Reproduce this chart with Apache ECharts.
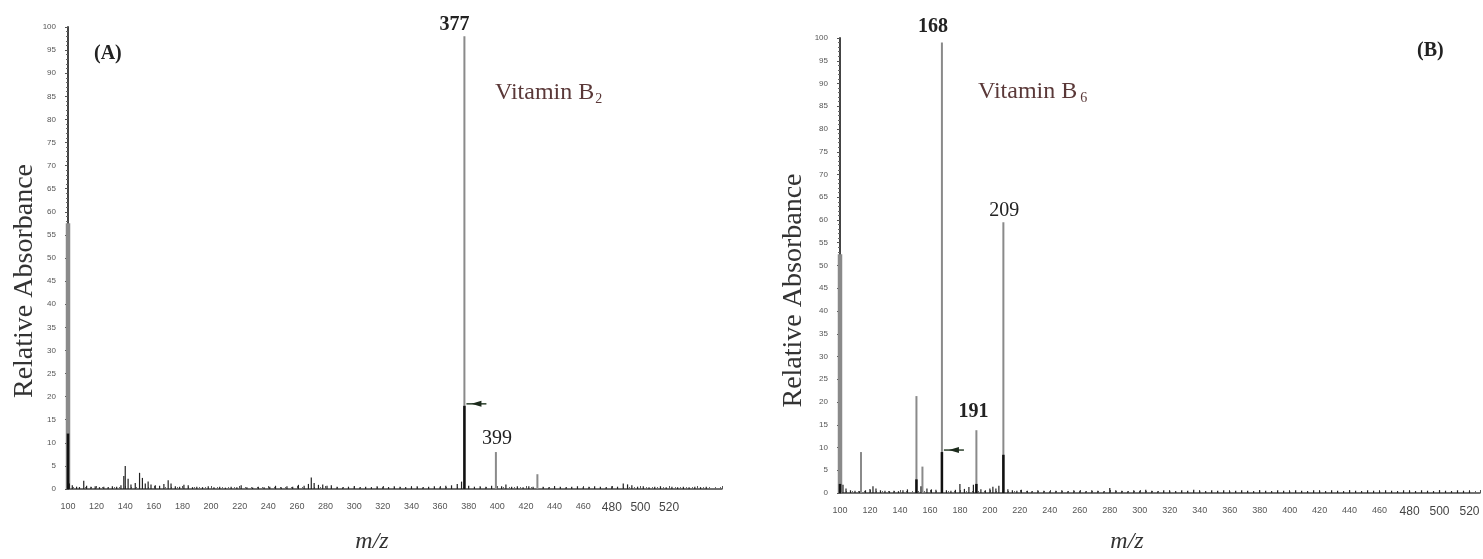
<!DOCTYPE html>
<html>
<head>
<meta charset="utf-8">
<script src="https://cdn.jsdelivr.net/npm/echarts@6/dist/echarts.min.js"></script>
<style>
  html, body { margin: 0; padding: 0; background: #fff; }
  #main { width: 1483px; height: 559px; }
</style>
</head>
<body>
<div id="main"></div>
<script>
// ---- tick labels ----
const mzTicks = [100, 120, 140, 160, 180, 200, 220, 240, 260, 280, 300, 320, 340, 360, 380, 400, 420, 440, 460, 480, 500, 520];
const intensityTicks = [0, 5, 10, 15, 20, 25, 30, 35, 40, 45, 50, 55, 60, 65, 70, 75, 80, 85, 90, 95, 100];

// ---- Spectrum A: Vitamin B2 ----
const peaksA_mz  = [100, 377, 399, 428];
const peaksA_val = [57.5, 98, 8, 3.2];
const coreA_mz   = [100, 377];
const coreA_val  = [12, 18];
const noiseA_mz  = [101, 103, 106, 108, 111, 113, 116, 119, 122, 125, 128, 131, 134, 137, 139, 140, 142, 144, 147, 150, 152, 154, 156, 158, 161, 164, 167, 170, 172, 175, 178, 181, 184, 187, 190, 194, 198, 202, 206, 210, 214, 218, 221, 225, 229, 233, 237, 241, 245, 249, 253, 257, 261, 265, 268, 270, 272, 275, 278, 281, 284, 288, 292, 296, 300, 304, 308, 312, 316, 320, 324, 328, 332, 336, 340, 344, 348, 352, 356, 360, 364, 368, 372, 375, 380, 384, 388, 392, 396, 403, 406, 410, 414, 418, 422, 425, 432, 436, 440, 444, 448, 452, 456, 460, 464, 468, 472, 476, 480, 484, 488, 491, 494, 498, 502, 506, 510, 514, 518, 522, 526, 530, 534, 538, 542, 546];
const noiseA_val = [1.2, 0.8, 0.5, 0.4, 1.8, 0.7, 0.5, 0.6, 0.4, 0.5, 0.4, 0.6, 0.5, 0.8, 2.8, 5.0, 2.2, 1.0, 1.3, 3.5, 2.4, 1.2, 1.6, 1.0, 0.8, 0.7, 1.1, 1.9, 1.2, 0.6, 0.5, 0.9, 0.8, 0.4, 0.5, 0.4, 0.6, 0.4, 0.5, 0.3, 0.5, 0.4, 0.8, 0.4, 0.3, 0.5, 0.4, 0.5, 0.7, 0.4, 0.6, 0.5, 0.9, 0.7, 1.1, 2.5, 1.3, 0.9, 1.0, 0.7, 0.8, 0.5, 0.4, 0.5, 0.6, 0.4, 0.5, 0.4, 0.6, 0.5, 0.4, 0.6, 0.5, 0.4, 0.5, 0.6, 0.4, 0.5, 0.6, 0.5, 0.7, 0.8, 1.1, 1.6, 0.7, 0.5, 0.6, 0.5, 0.7, 0.6, 1.0, 0.5, 0.6, 0.4, 0.6, 0.5, 0.5, 0.4, 0.6, 0.5, 0.4, 0.5, 0.6, 0.4, 0.5, 0.6, 0.5, 0.4, 0.6, 0.5, 1.2, 1.0, 0.8, 0.5, 0.6, 0.4, 0.5, 0.6, 0.4, 0.5, 0.4, 0.5, 0.4, 0.5, 0.4, 0.5];
const labelledA  = [377, 399];
const arrowA     = [377];

// ---- Spectrum B: Vitamin B6 ----
const peaksB_mz  = [100, 114, 151, 155, 168, 191, 209];
const peaksB_val = [52.5, 9, 21.3, 5.8, 99, 13.8, 59.5];
const coreB_mz   = [100, 151, 168, 191, 209];
const coreB_val  = [2, 3, 9, 2, 8.4];
const noiseB_mz  = [102, 104, 107, 110, 113, 117, 120, 122, 124, 127, 130, 133, 136, 139, 142, 145, 154, 158, 161, 164, 171, 174, 177, 180, 183, 186, 189, 194, 197, 200, 202, 204, 206, 212, 215, 218, 221, 225, 228, 232, 236, 240, 244, 248, 252, 256, 260, 264, 268, 272, 276, 280, 284, 288, 292, 296, 300, 304, 308, 312, 316, 320, 324, 328, 332, 336, 340, 344, 348, 352, 356, 360, 364, 368, 372, 376, 380, 384, 388, 392, 396, 400, 404, 408, 412, 416, 420, 424, 428, 432, 436, 440, 444, 448, 452, 456, 460, 464, 468, 472, 476, 480, 484, 488, 492, 496, 500, 504, 508, 512, 516, 520];
const noiseB_val = [1.8, 1.0, 0.6, 0.5, 0.4, 0.6, 0.9, 1.5, 1.0, 0.6, 0.5, 0.4, 0.5, 0.4, 0.6, 0.8, 1.5, 1.0, 0.8, 0.7, 0.6, 0.5, 0.7, 2.0, 0.9, 1.3, 1.8, 0.8, 0.6, 1.0, 1.4, 1.0, 1.6, 0.8, 0.6, 0.5, 0.7, 0.5, 0.4, 0.6, 0.5, 0.4, 0.5, 0.6, 0.4, 0.6, 0.5, 0.4, 0.6, 0.5, 0.4, 1.1, 0.6, 0.5, 0.4, 0.6, 0.5, 0.7, 0.5, 0.4, 0.6, 0.5, 0.4, 0.6, 0.5, 0.7, 0.5, 0.4, 0.6, 0.5, 0.6, 0.4, 0.5, 0.6, 0.5, 0.4, 0.6, 0.5, 0.4, 0.6, 0.5, 0.4, 0.6, 0.5, 0.4, 0.6, 0.5, 0.4, 0.6, 0.5, 0.4, 0.6, 0.5, 0.4, 0.6, 0.5, 0.4, 0.6, 0.5, 0.4, 0.6, 0.5, 0.4, 0.6, 0.5, 0.4, 0.6, 0.5, 0.4, 0.6, 0.5, 0.4];
const labelledB  = [168, 191, 209];
const arrowB     = [168];

// ---- presentation ----
const SERIF = '"Liberation Serif", "DejaVu Serif", serif';
const SANS = '"Liberation Sans", "DejaVu Sans", sans-serif';
const wideBars = { 100: 4.5 };            // m/z positions drawn as broad bars
const labelStyle = {                        // per-peak label placement (px)
  377: { dx: -10, dy: -11, bold: true },
  399: { dx: 1,   dy: -13, bold: false },
  168: { dx: -9,  dy: -16, bold: true },
  191: { dx: -3,  dy: -18, bold: true },
  209: { dx: 1,   dy: -12, bold: false }
};

function pairs(xs, ys) { return xs.map((x, i) => [x, ys[i]]); }
function lookup(xs, ys, x) { return ys[xs.indexOf(x)]; }

function stickSeries(idx, data, color, width, z) {
  return {
    type: 'custom', xAxisIndex: idx, yAxisIndex: idx, z: z, silent: true,
    data: data,
    renderItem: function (params, api) {
      const mz = api.value(0);
      const p0 = api.coord([mz, 0]);
      const p1 = api.coord([mz, api.value(1)]);
      const w = wideBars[mz] && color !== '#111' ? wideBars[mz] : width;
      return {
        type: 'line',
        shape: { x1: p0[0], y1: p0[1], x2: p1[0], y2: p1[1] },
        style: { stroke: color, lineWidth: w }
      };
    }
  };
}

function labelSeries(idx, data) {
  return {
    type: 'custom', xAxisIndex: idx, yAxisIndex: idx, z: 10, silent: true,
    data: data,
    renderItem: function (params, api) {
      const mz = api.value(0);
      const p = api.coord([mz, api.value(1)]);
      const s = labelStyle[mz];
      return {
        type: 'text',
        x: p[0] + s.dx, y: p[1] + s.dy,
        style: {
          text: String(mz), align: 'center', verticalAlign: 'middle',
          fontFamily: SERIF, fontSize: 20, fontWeight: s.bold ? 'bold' : 'normal',
          fill: '#222'
        }
      };
    }
  };
}

function arrowSeries(idx, data) {
  return {
    type: 'custom', xAxisIndex: idx, yAxisIndex: idx, z: 9, silent: true,
    data: data,
    renderItem: function (params, api) {
      const p = api.coord([api.value(0), api.value(1)]);
      const x = p[0], y = p[1] - 2;
      return {
        type: 'group',
        children: [
          { type: 'line', shape: { x1: x + 2, y1: y, x2: x + 22, y2: y },
            style: { stroke: '#2b3f2b', lineWidth: 1.5 } },
          { type: 'polygon', shape: { points: [[x + 7, y], [x + 17, y - 3], [x + 17, y + 3]] },
            style: { fill: '#1c2a1c' } }
        ]
      };
    }
  };
}

function xAxisFor(idx, max, nameShift, nameGap) {
  return {
    gridIndex: idx, type: 'value', min: 100, max: max, interval: 20,
    axisLine: { show: true, onZero: false, lineStyle: { color: '#444', width: 1.5 } },
    axisTick: { show: true, length: 3, inside: true, lineStyle: { color: '#555' } },
    minorTick: { show: true, splitNumber: 5, length: 2, lineStyle: { color: '#666' } },
    splitLine: { show: false },
    axisLabel: {
      margin: 13, color: '#555', fontFamily: SANS, fontSize: 9,
      showMaxLabel: false,
      formatter: function (v) {
        if (mzTicks.indexOf(v) < 0) return '';
        return v >= 480 ? '{big|' + v + '}' : String(v);
      },
      rich: { big: { fontSize: 12, color: '#444', fontFamily: SANS } }
    },
    name: 'm/z', nameLocation: 'middle', nameGap: nameGap,
    nameTextStyle: { fontFamily: SERIF, fontStyle: 'italic', fontSize: 24, color: '#333',
                     padding: [0, nameShift, 0, 0] }
  };
}

function yAxisFor(idx, nameGap, nameDrop) {
  return {
    gridIndex: idx, type: 'value', min: 0, max: 100, interval: 5,
    axisLine: { show: true, lineStyle: { color: '#444', width: 2 } },
    axisTick: { show: true, length: 3, lineStyle: { color: '#555' } },
    minorTick: { show: true, splitNumber: 5, length: 2, lineStyle: { color: '#666' } },
    splitLine: { show: false },
    axisLabel: {
      margin: 12, color: '#555', fontFamily: SANS, fontSize: 8,
      formatter: function (v) { return intensityTicks.indexOf(v) >= 0 ? String(v) : ''; }
    },
    name: 'Relative Absorbance', nameLocation: 'middle', nameRotate: 90, nameGap: nameGap,
    nameTextStyle: { fontFamily: SERIF, fontSize: 28, color: '#333',
                     padding: [0, nameDrop, 0, 0] }
  };
}

const chart = echarts.init(document.getElementById('main'));
chart.setOption({
  animation: false,
  backgroundColor: '#fff',
  grid: [
    { left: 68, top: 27, width: 654, height: 473 },
    { left: 840, top: 38, width: 640, height: 464 }
  ],
  xAxis: [xAxisFor(0, 557, 46, 41), xAxisFor(1, 527, 66, 37)],
  yAxis: [yAxisFor(0, 26, 46), yAxisFor(1, 32, 50)],
  graphic: [
    { type: 'text', left: 94, top: 44, style: { text: '(A)', fontFamily: SERIF, fontSize: 20, fontWeight: 'bold', fill: '#222' } },
    { type: 'text', left: 1417, top: 41, style: { text: '(B)', fontFamily: SERIF, fontSize: 20, fontWeight: 'bold', fill: '#222' } },
    { type: 'text', left: 495, top: 81, style: {
        text: '{t|Vitamin B}{s|2}',
        rich: { t: { fontFamily: SERIF, fontSize: 24, fill: '#5a3838' },
                s: { fontFamily: SERIF, fontSize: 14, fill: '#5a3838', padding: [13, 0, 0, 1] } } } },
    { type: 'text', left: 978, top: 80, style: {
        text: '{t|Vitamin B}{s|6}',
        rich: { t: { fontFamily: SERIF, fontSize: 24, fill: '#5a3838' },
                s: { fontFamily: SERIF, fontSize: 14, fill: '#5a3838', padding: [13, 0, 0, 3] } } } }
  ],
  series: [
    stickSeries(0, pairs(peaksA_mz, peaksA_val), '#8a8a8a', 2, 2),
    stickSeries(0, pairs(noiseA_mz, noiseA_val), '#222', 1.2, 3),
    stickSeries(0, pairs(coreA_mz, coreA_val), '#111', 2.5, 4),
    labelSeries(0, labelledA.map(m => [m, lookup(peaksA_mz, peaksA_val, m)])),
    arrowSeries(0, arrowA.map(m => [m, lookup(coreA_mz, coreA_val, m)])),

    stickSeries(1, pairs(peaksB_mz, peaksB_val), '#8a8a8a', 2, 2),
    stickSeries(1, pairs(noiseB_mz, noiseB_val), '#222', 1.2, 3),
    stickSeries(1, pairs(coreB_mz, coreB_val), '#111', 2.5, 4),
    labelSeries(1, labelledB.map(m => [m, lookup(peaksB_mz, peaksB_val, m)])),
    arrowSeries(1, arrowB.map(m => [m, lookup(coreB_mz, coreB_val, m)]))
  ]
});
</script>
</body>
</html>
